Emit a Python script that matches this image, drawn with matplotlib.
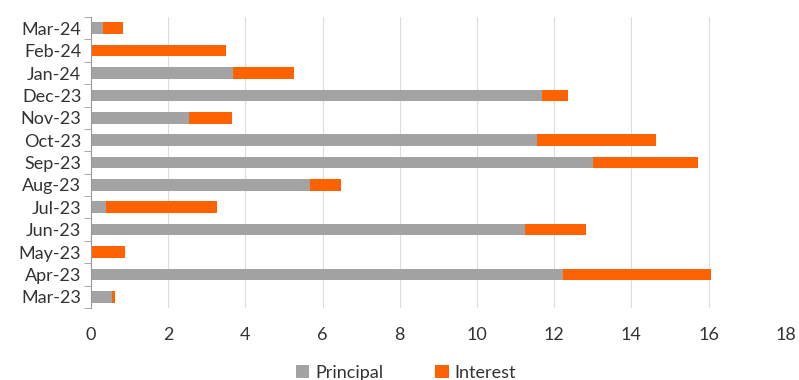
import matplotlib.pyplot as plt
import numpy as np

months = ["Mar-23", "Apr-23", "May-23", "Jun-23", "Jul-23", "Aug-23", "Sep-23",
          "Oct-23", "Nov-23", "Dec-23", "Jan-24", "Feb-24", "Mar-24"]
principal = [0.54, 12.22, 0.0, 11.24, 0.39, 5.67, 13.01, 11.55, 2.55, 11.68, 3.67, 0.0, 0.32]
interest = [0.09, 3.84, 0.88, 1.59, 2.87, 0.81, 2.72, 3.10, 1.11, 0.67, 1.59, 3.51, 0.52]

plt.rcParams['font.family'] = ['Lato', 'DejaVu Sans']

fig = plt.figure(figsize=(7.99, 3.80), dpi=100)
ax = fig.add_axes([0.1139, 0.1895, 0.8695, 0.7655])

y = np.arange(len(months))
ax.barh(y, principal, height=0.52, color="#a3a3a3", label="Principal")
ax.barh(y, interest, height=0.52, left=principal, color="#ff6200", label="Interest")

ax.set_xlim(0, 18)
ax.set_ylim(-0.5, len(months) - 0.5)
ax.set_xticks(np.arange(0, 19, 2))
ax.set_yticks(y)
ax.set_yticklabels(months)
ax.set_yticks(np.arange(-0.5, len(months), 1), minor=True)

ax.grid(axis="x", color="#dddddd", linewidth=0.8)
ax.set_axisbelow(True)
for s in ["top", "right", "bottom"]:
    ax.spines[s].set_visible(False)
ax.spines["left"].set_color("#999999")

ax.tick_params(axis="y", which="major", length=0, pad=7, labelsize=13, labelcolor="#333333")
ax.tick_params(axis="y", which="minor", length=5, color="#999999")
ax.tick_params(axis="x", length=0, pad=14, labelsize=13, labelcolor="#333333")

fig.legend(loc="lower center", bbox_to_anchor=(0.508, -0.045), ncol=2, frameon=False,
           fontsize=13, handlelength=0.75, handleheight=0.75, handletextpad=0.3,
           columnspacing=2.9, labelcolor="#333333")

fig.savefig("out.png", dpi=100)
